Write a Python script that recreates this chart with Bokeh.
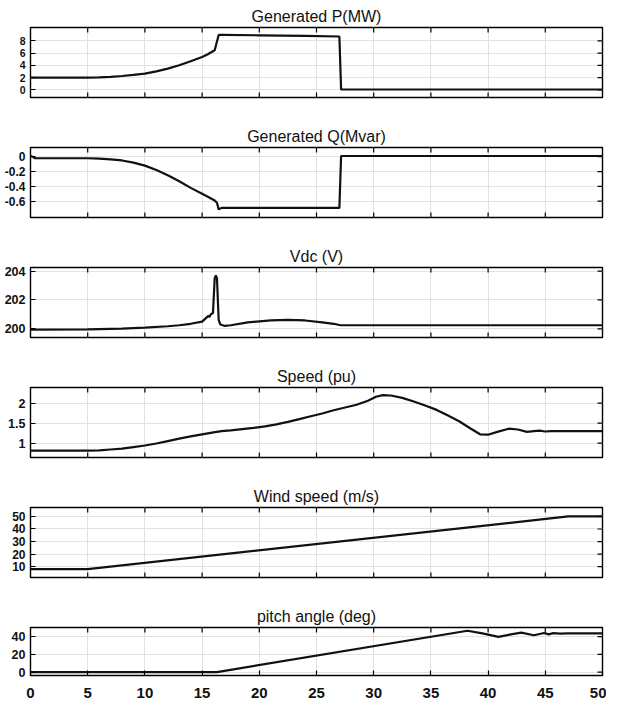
from bokeh.plotting import figure
from bokeh.layouts import column
from bokeh.models import FixedTicker, Range1d
from bokeh.embed import file_html
from bokeh.resources import INLINE

# ---------------- data ----------------
x_ticks = [0, 5, 10, 15, 20, 25, 30, 35, 40, 45, 50]

p_t = [0, 5, 6, 7, 8, 9, 10, 11, 12, 13, 14, 15, 15.5, 16.1, 16.45, 16.7, 20, 24, 27.0, 27.15, 30, 40, 50]
p_y = [2.0, 2.0, 2.03, 2.1, 2.25, 2.42, 2.65, 3.0, 3.45, 4.0, 4.65, 5.35, 5.8, 6.45, 8.95, 8.95, 8.9, 8.8, 8.7, 0.05, 0.05, 0.05, 0.05]
p_ticks = [0, 2, 4, 6, 8]

q_t = [0, 0.2, 0.4, 5, 6, 7, 8, 9, 10, 11, 12, 13, 14, 15, 15.5, 16.1, 16.3, 16.45, 16.7, 27.0, 27.15, 50]
q_y = [0.01, 0.0, -0.02, -0.02, -0.025, -0.035, -0.05, -0.08, -0.12, -0.18, -0.25, -0.33, -0.42, -0.5, -0.54, -0.59, -0.62, -0.71, -0.69, -0.69, 0.01, 0.01]
q_ticks = [-0.6, -0.4, -0.2, 0]
q_labels = ["-0.6", "-0.4", "-0.2", "0"]

v_t = [0, 5, 8, 10, 12, 13, 14, 15, 15.55, 15.65, 15.75, 15.95, 16.1, 16.2, 16.3, 16.45, 16.6, 17.0, 17.5, 19, 21, 22.5, 24, 25.5, 26.5, 27.1, 30, 50]
v_y = [199.95, 199.96, 200.02, 200.08, 200.18, 200.25, 200.35, 200.5, 200.9, 200.82, 201.0, 201.1, 203.5, 203.7, 203.5, 200.6, 200.3, 200.2, 200.25, 200.45, 200.58, 200.62, 200.58, 200.45, 200.35, 200.25, 200.25, 200.25]
v_ticks = [200, 202, 204]

s_t = [0, 5, 6, 7, 8, 9, 10, 11, 12, 13, 14, 15, 16, 16.7, 17.5, 18.5, 19.5, 20.5, 21.5, 22.5, 23.5, 24.5, 25.5, 26.5, 27.5, 28.5, 29.5, 30.2, 30.8, 31.5, 32.5, 33.5, 34.5, 35.5, 36.5, 37.5, 38.5, 39.3, 40, 40.8, 41.8, 42.6, 43.4, 44.0, 44.5, 45.0, 45.5, 46, 50]
s_y = [0.81, 0.81, 0.82, 0.84, 0.86, 0.9, 0.94, 0.99, 1.05, 1.11, 1.17, 1.22, 1.27, 1.3, 1.32, 1.35, 1.38, 1.42, 1.47, 1.53, 1.6, 1.67, 1.74, 1.82, 1.89, 1.96, 2.06, 2.16, 2.2, 2.19, 2.13, 2.04, 1.94, 1.83, 1.69, 1.54, 1.36, 1.22, 1.21, 1.28, 1.36, 1.34, 1.28, 1.3, 1.31, 1.29, 1.3, 1.3, 1.3]
s_ticks = [1, 1.5, 2]
s_labels = ["1", "1.5", "2"]

w_t = [0, 5, 47, 50]
w_y = [8, 8, 50, 50]
w_ticks = [10, 20, 30, 40, 50]

a_t = [0, 16.3, 38.2, 39.5, 40.9, 42.0, 42.9, 44.0, 44.9, 45.3, 45.7, 46.3, 47, 50]
a_y = [0, 0, 46.5, 43.5, 39.7, 42.5, 44.5, 41.5, 44.0, 42.5, 43.8, 43.2, 43.6, 43.5]
a_ticks = [0, 20, 40]

panels = [
    ("Generated P(MW)", p_t, p_y, (-1.26, 10.17), p_ticks, None, "10.5px"),
    ("Generated Q(Mvar)", q_t, q_y, (-0.82, 0.125), q_ticks, q_labels, "12px"),
    ("Vdc (V)", v_t, v_y, (199.4, 204.25), v_ticks, None, "12.5px"),
    ("Speed (pu)", s_t, s_y, (0.64, 2.39), s_ticks, s_labels, "12.5px"),
    ("Wind speed (m/s)", w_t, w_y, (1.4, 57.1), w_ticks, None, "12px"),
    ("pitch angle (deg)", a_t, a_y, (-3.9, 50.2), a_ticks, None, "12.5px"),
]

FONT = "Liberation Sans"
X0, X1 = 0, 50
FW = 572
BL, BR, BT = 30, 4, 27
TICK_PX = 5

figs = []
for i, (title, t, y, yr, yt, ylab, yfs) in enumerate(panels):
    last = i == len(panels) - 1
    frame_h = 48 if last else 70
    bb = 30 if last else 23
    p = figure(frame_width=FW, frame_height=frame_h,
               x_range=Range1d(X0, X1), y_range=Range1d(*yr),
               x_axis_location="below" if last else None,
               output_backend="svg", toolbar_location=None,
               min_border_left=BL, min_border_right=BR,
               min_border_top=BT, min_border_bottom=bb,
               background_fill_color="white", border_fill_color="white")
    p.title.text = title
    p.title.align = "center"
    p.title.text_font = FONT
    p.title.text_font_size = "16px"
    p.title.text_font_style = "normal"
    p.title.text_color = "#111111"
    p.title.standoff = 6

    p.outline_line_color = "black"
    p.outline_line_width = 1.4

    xtick = FixedTicker(ticks=x_ticks)
    ytick = FixedTicker(ticks=yt)
    p.xgrid.ticker = xtick
    p.ygrid.ticker = ytick
    p.grid.grid_line_color = "#e2e2e2"
    p.grid.grid_line_width = 1

    # inward tick marks on the box sides without labels (top, right, and bottom of upper panels)
    lo, hi = yr
    dx = TICK_PX * (X1 - X0) / FW
    dy = TICK_PX * (hi - lo) / frame_h
    inner_x = [v for v in x_ticks if X0 < v < X1]
    p.segment(x0=inner_x, x1=inner_x, y0=[hi] * len(inner_x), y1=[hi - dy] * len(inner_x),
              line_color="black", line_width=1.2)
    if not last:
        p.segment(x0=inner_x, x1=inner_x, y0=[lo] * len(inner_x), y1=[lo + dy] * len(inner_x),
                  line_color="black", line_width=1.2)
    p.segment(x0=[X1] * len(yt), x1=[X1 - dx] * len(yt), y0=yt, y1=yt,
              line_color="black", line_width=1.2)

    p.line(t, y, line_color="#111111", line_width=2.2)

    for ax in p.yaxis:
        ax.ticker = ytick
        if ylab:
            ax.major_label_overrides = {v: s for v, s in zip(yt, ylab)}
        ax.major_label_text_font_size = yfs
        ax.major_label_standoff = 5
    for ax in p.xaxis:
        ax.ticker = xtick
        ax.major_label_text_font_size = "15px"
        ax.major_label_standoff = 12

    for ax in p.axis:
        ax.axis_line_color = None
        ax.major_tick_in = TICK_PX
        ax.major_tick_out = 0
        ax.major_tick_line_color = "black"
        ax.major_tick_line_width = 1.2
        ax.minor_tick_line_color = None
        ax.major_label_text_font = FONT
        ax.major_label_text_font_style = "bold"
        ax.major_label_text_color = "#111111"

    figs.append(p)

layout = column(*figs, spacing=0)
open("out.html", "w").write(file_html(layout, INLINE))
